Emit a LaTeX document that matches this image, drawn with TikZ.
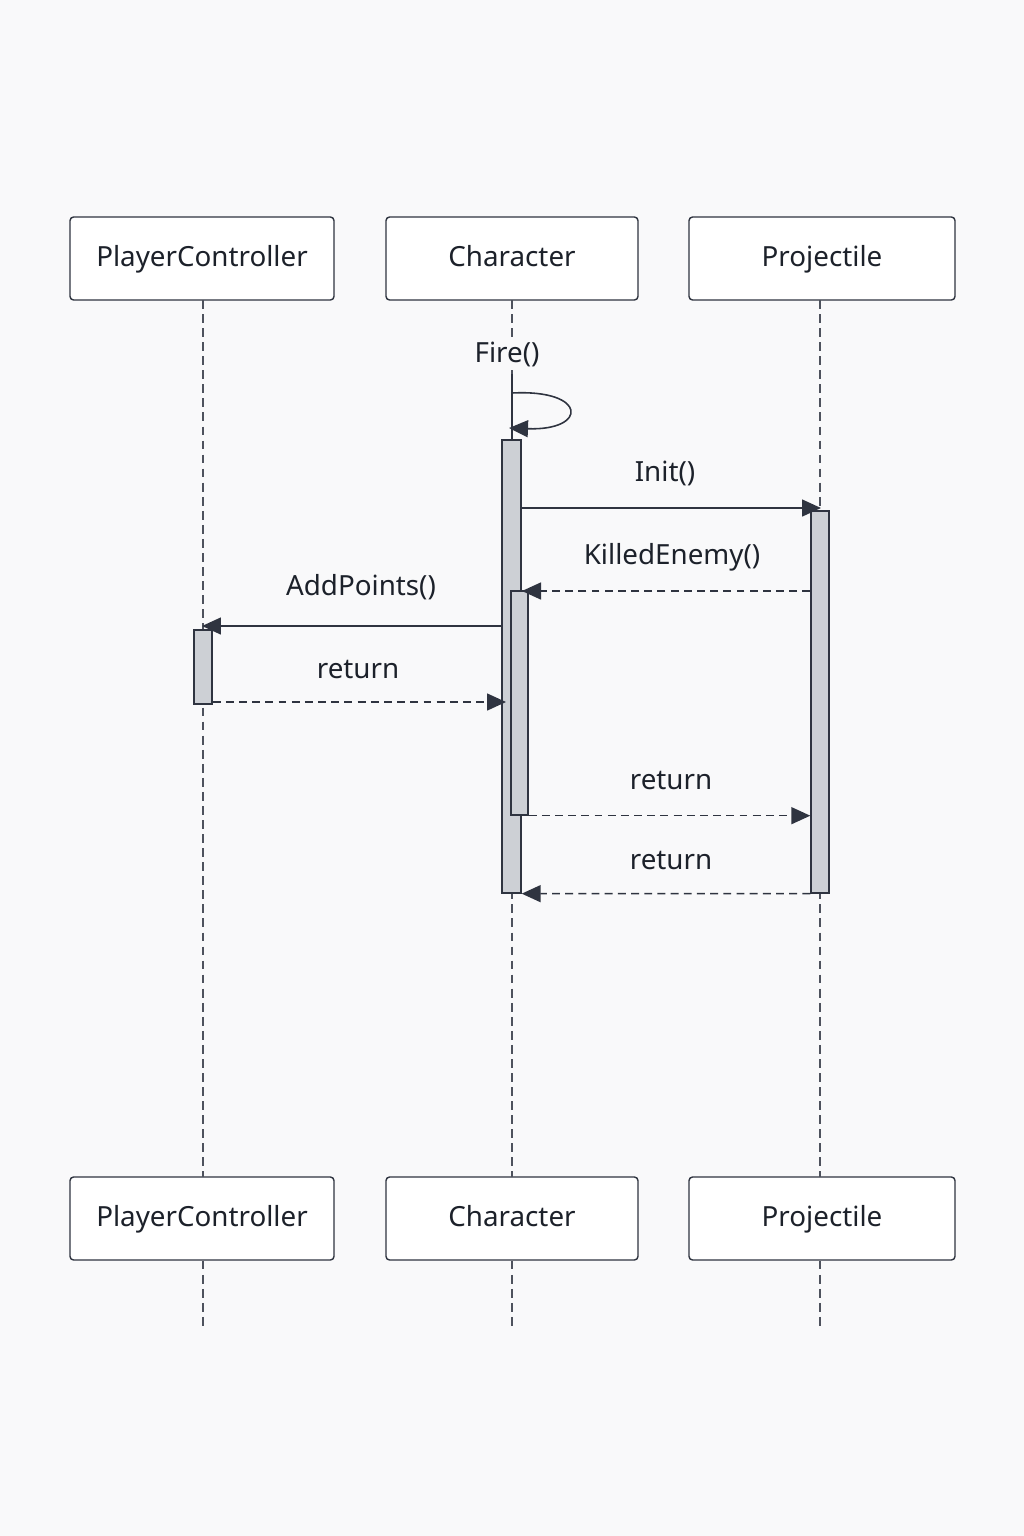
\documentclass[tikz,border=0pt]{standalone}
\usepackage{fontspec}
\setmainfont{Noto Sans}
\usepackage{xcolor}
\usetikzlibrary{arrows.meta, positioning, calc}

\definecolor{ink}{HTML}{2F3440}
\definecolor{txt}{HTML}{1C212A}
\definecolor{barfill}{HTML}{CDD0D5}
\definecolor{bg}{HTML}{F9F9FA}

\begin{document}
\begin{tikzpicture}[
    x=0.02cm, y=-0.02cm,
    every node/.style={font=\fontsize{15.8}{18}\selectfont, text=txt},
    actor/.style={
        draw=ink,
        rounded corners=2pt,
        fill=white,
        line width=0.8pt,
        text height=2.0ex,
        text depth=0.25ex,
        minimum height=1.66cm
    },
    bar/.style={
        draw=ink,
        fill=barfill,
        line width=0.8pt,
        inner sep=0pt
    },
    lifeline/.style={draw=ink!85, line width=0.8pt, dash pattern=on 5pt off 3pt},
    call/.style={-{Triangle[length=3.8mm, width=3.4mm]}, draw=ink, line width=0.9pt},
    reply/.style={-{Triangle[length=3.8mm, width=3.4mm]}, draw=ink, line width=0.9pt, dash pattern=on 4.5pt off 3pt},
    msg/.style={fill=bg, inner sep=1pt}
]

\fill[bg] (0,0) rectangle (1024,1536);

\node[actor, minimum width=5.28cm] (pcTop) at (202,258.5) {PlayerController};
\node[actor, minimum width=5.04cm] (chTop) at (512,258.5) {Character};
\node[actor, minimum width=5.32cm] (prTop) at (822,258.5) {Projectile};

\node[actor, minimum width=5.28cm] (pcBot) at (202,1218.5) {PlayerController};
\node[actor, minimum width=5.04cm] (chBot) at (512,1218.5) {Character};
\node[actor, minimum width=5.32cm] (prBot) at (822,1218.5) {Projectile};

\coordinate (pcEnd) at (203,1328);
\coordinate (chEnd) at (512,1328);
\coordinate (prEnd) at (820,1328);

\draw[lifeline] (203,300) -- (203,1177);
\draw[lifeline] (512,300) -- (512,1177);
\draw[lifeline] (820,300) -- (820,1177);
\draw[lifeline] (pcBot.south -| pcEnd) -- (pcEnd);
\draw[lifeline] (chBot.south -| chEnd) -- (chEnd);
\draw[lifeline] (prBot.south -| prEnd) -- (prEnd);

\node[msg] (fire) at (507,354) {Fire()};
\coordinate (selfStart) at (512,393);
\coordinate (selfEnd) at (509,428);
\draw[draw=ink, line width=0.9pt] (512,374) -- (512,440);
\draw[call] (selfStart) .. controls (588,389) and (588,431) .. (selfEnd);

\node[bar, minimum width=0.38cm, minimum height=9.06cm] (chBar) at (511.5,666.5) {};
\node[bar, minimum width=0.36cm, minimum height=7.64cm] (prBar) at (820,702) {};
\node[bar, minimum width=0.34cm, minimum height=4.48cm] (subBar) at (519.5,703) {};
\node[bar, minimum width=0.36cm, minimum height=1.48cm] (pcBar) at (203,667) {};

\coordinate (initEnd) at (821,508);
\coordinate (killEnd) at (522,591);
\coordinate (addEnd) at (202,626);
\coordinate (retEnd) at (506,702);

\node (init) at (665,473) {Init()};
\node (kill) at (672,557) {KilledEnemy()};
\node (add) at (361,587) {AddPoints()};
\node (ret1) at (358,669) {return};
\node (ret2) at (671,780) {return};
\node (ret3) at (671,860) {return};

\draw[call] (chBar.east |- initEnd) -- (initEnd);
\draw[reply] (prBar.west |- killEnd) -- (killEnd);
\draw[call] (chBar.west |- addEnd) -- (addEnd);
\draw[reply] (pcBar.east |- retEnd) -- (retEnd);
\draw[reply] (subBar.south east) -- (prBar.west |- subBar.south);
\draw[reply] (prBar.south west) -- (chBar.south east);

\end{tikzpicture}
\end{document}
